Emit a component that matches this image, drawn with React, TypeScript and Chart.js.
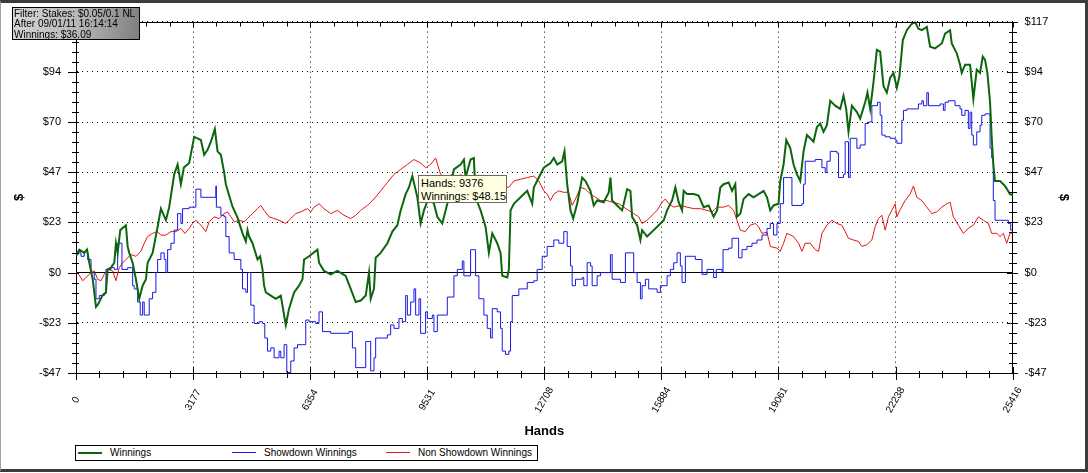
import React, { useEffect, useRef } from 'react';
import { Chart, registerables } from 'chart.js';

Chart.register(...registerables);

const FONT = "'Liberation Sans', Arial, Helvetica, sans-serif";

// ---- Winnings (green) ----
const winHands = [0,89,225,298,361,453,542,588,724,813,859,949,1038,1084,1130,1201,1355,1401,1445,1537,1626,1716,1808,1898,1944,2079,2215,2304,2440,2529,2665,2757,2846,2928,3071,3207,3299,3389,3478,3570,3660,3768,3841,3931,4020,4066,4156,4248,4383,4519,4608,4654,4698,4790,4926,4996,5061,5104,5151,5286,5422,5557,5693,5782,5918,6053,6146,6189,6324,6552,6595,6731,6913,7094,7319,7455,7590,7726,7862,7951,7997,8086,8132,8268,8450,8585,8721,8810,8946,9035,9127,9263,9352,9442,9577,9713,9805,9940,10076,10255,10437,10526,10572,10708,10797,10843,10979,11114,11204,11296,11431,11521,11567,11703,11746,11792,11881,12063,12245,12380,12423,12559,12695,12876,12966,13058,13193,13256,13329,13418,13492,13600,13736,13825,13961,14050,14142,14321,14457,14503,14549,14684,14820,14956,15045,15091,15227,15316,15362,15498,15677,15812,15948,16040,16175,16265,16354,16446,16490,16582,16761,16896,17032,17167,17303,17395,17485,17574,17710,17802,17891,17937,18027,18116,18252,18387,18523,18659,18751,18840,18929,19065,19111,19201,19274,19382,19472,19564,19653,19743,19835,19924,20014,20106,20195,20285,20377,20467,20602,20738,20827,20900,20963,21055,21190,21280,21415,21478,21551,21640,21732,21822,21911,22003,22093,22182,22275,22345,22437,22546,22681,22771,22860,22952,23088,23177,23313,23494,23584,23719,23765,23901,23990,24036,24126,24262,24351,24443,24533,24606,24668,24731,24804,24850,24893,24939,25075,25210,25346,25416];
const winValues = [8,10.7,9.2,10.7,4.6,-3.1,-16.0,-15.1,-10.5,-9.2,1.5,2.3,4.6,13.7,9.2,19.8,22.1,12.2,9.2,4.6,-3.1,-12.2,-6.1,-3.1,4.6,9.2,21.4,29.8,24.4,30.5,45.8,50.4,41.2,49.0,51.1,63.3,62.6,61.8,54.9,57.2,61.0,66.9,56.5,54.9,46.7,41.2,35.9,30.7,25.6,18.3,14.5,19.8,16.8,13.7,6.1,7.6,1.5,-6.1,-9.2,-10.7,-12.2,-10.7,-24.4,-16.8,-9.2,-6.1,-3.1,6.1,7.6,10.7,4.6,0.8,-0.8,0.8,-1.5,-7.6,-13.7,-13.0,-10.7,0,-12.2,-7.6,6.9,9.2,13.7,19.1,22.1,29.0,36.6,39.7,45.0,35.1,22.9,29.0,35.1,32.1,26.0,22.9,32.1,48.1,50.4,52.7,44.3,52.7,53.4,35.1,29.0,21.4,9.2,18.3,13.7,9.2,-1.5,-2.3,1.5,29.0,32.1,35.1,38.1,32.1,39.7,44.3,48.9,51.1,53.4,50.4,51.9,56.5,41.2,29.0,25.2,32.1,44.3,42.7,38.1,31.3,33.6,32.8,37.4,44.3,33.6,31.3,29.0,38.9,38.1,26.0,22.1,15.2,19.8,16.8,19.8,22.1,24.4,29.0,33.6,39.7,32.8,29.0,38.1,36.6,36.6,35.9,30.5,31.3,26.0,29.0,39.7,41.2,42.0,38.1,41.2,26.0,27.5,34.3,36.6,35.1,36.6,38.1,35.1,29.0,31.3,32.1,42.7,50.4,61.8,58.0,50.4,45.8,42.7,56.5,64.1,62.6,61.0,67.9,69.5,65.6,68.7,80.1,77.8,76.3,82.4,76.3,65.6,77.8,74.8,71.8,79.4,83.9,76.3,88.5,103.8,103.0,87.0,83.9,90.8,93.1,86.2,91.6,108.4,113.0,116.0,116.8,113.7,113.0,114.5,105.3,104.5,106.8,111.4,113.0,106.8,102.2,96.9,93.1,96.9,96.9,80.9,94.6,93.1,100.7,99.2,93.1,79.4,62.6,50.4,42.7,42.7,40.4,36.6,36.09];

// ---- Showdown Winnings (blue, stepped) ----
const sdHands = [0,46,136,225,317,407,496,542,632,767,813,949,1038,1130,1247,1401,1537,1580,1673,1743,1808,1851,1944,1987,2079,2169,2215,2304,2394,2440,2486,2575,2665,2757,2846,2892,3071,3207,3253,3389,3741,3795,3809,3931,4020,4066,4156,4291,4473,4519,4608,4654,4744,4833,4969,5061,5123,5197,5286,5376,5511,5557,5647,5720,5828,5918,6010,6146,6235,6324,6506,6595,6688,6913,7409,7501,7590,7815,7862,7951,7997,8086,8132,8450,8539,8629,8764,8856,8946,8992,9081,9171,9217,9306,9352,9488,9534,9669,9713,9805,10030,10076,10255,10347,10483,10526,10708,10797,10843,10933,11068,11160,11250,11296,11431,11521,11567,11656,11746,11792,11838,12017,12245,12423,12515,12651,12786,12966,13102,13237,13329,13418,13464,13554,13736,13779,13871,13961,14007,14142,14232,14503,14549,14774,14909,15045,15134,15227,15316,15362,15452,15541,15769,15858,16040,16129,16219,16311,16400,16446,16536,16807,16988,17124,17303,17376,17531,17558,17710,17802,17981,18073,18208,18344,18480,18615,18751,18840,18929,19021,19111,19201,19336,19428,19699,19743,19789,20060,20241,20331,20377,20467,20648,20692,20827,20873,20963,21009,21190,21280,21415,21505,21597,21749,21822,21868,21957,22093,22229,22275,22410,22454,22546,22860,22952,22996,23088,23131,23448,23538,23584,23674,23855,23990,24036,24126,24215,24262,24307,24351,24443,24533,24579,24668,24804,24850,24893,24939,25300,25365,25416];
const sdValues = [8.2,9.2,7.6,9.9,6.1,0,-3.1,-12.2,-10.7,-9.9,1.5,2.3,1.5,13.7,1.5,2.3,-6.1,-7.6,-13.7,-19.8,-13.7,-19.8,-19.8,-12.2,-9.2,0,6.1,9.2,6.1,0,10.7,13.7,19.8,27.5,22.9,29.8,30.5,30.5,38.9,35.1,35.1,40.4,30.5,26.7,26.0,16.8,9.2,6.1,1.5,-7.6,-9.2,0,-15.2,-23.7,-22.9,-23.7,-30.5,-36.6,-35.1,-39.7,-36.6,-39.7,-33.6,-46.6,-41.2,-35.1,-33.6,-33.6,-22.1,-22.9,-23.7,-18.3,-27.5,-28.3,-27.5,-35.1,-44.3,-44.3,-32.1,-32.1,-45.8,-39.7,-30.5,-29.0,-24.4,-26.0,-21.4,-22.9,-10.7,-19.8,-13.7,-7.6,-19.8,-12.2,-28.3,-18.3,-21.4,-19.8,-27.5,-19.8,-19.8,-11.4,-1.5,1.5,5.4,-1.5,10.7,10.7,-1.5,-12.2,-19.8,-26.0,-30.5,-16.8,-18.3,-26.0,-36.6,-38.1,-36.6,-22.9,-10.7,-7.6,-4.6,-3.8,1.5,7.6,12.2,15.2,13.7,19.1,12.2,3.1,-6.1,-3.1,-2.3,-6.1,4.6,3.1,-6.1,-1.5,0,8.4,-3.1,-4.6,9.2,9.2,0,-4.6,-12.2,-6.1,-3.1,-7.6,-9.2,-6.1,-1.5,1.5,4.6,9.2,3.1,-4.6,7.6,6.1,-0.8,1.5,-2.3,1.5,0,10.7,11.4,16.0,6.9,10.7,12.2,13.7,15.2,17.5,20.6,22.9,17.5,22.9,32.1,44.3,44.3,31.3,32.1,41.2,51.9,52.7,48.9,46.6,51.9,56.5,55.7,44.3,45.8,61.0,44.3,62.6,58.0,59.5,69.5,70.2,77.8,79.4,73.3,64.1,63.3,62.6,61.8,60.3,71.0,75.6,76.3,78.6,80.1,77.8,83.9,77.8,78.6,75.6,79.4,80.1,77.8,76.3,73.3,75.6,67.2,74.8,64.1,59.5,65.6,68.7,73.3,74.0,58.0,53.4,33.6,24.4,22.9,19.8,19.8];

// ---- Non Showdown Winnings (red) ----
const nsdHands = [0,81,182,271,407,496,588,678,767,859,995,1084,1174,1266,1355,1491,1626,1762,1851,1944,2079,2215,2304,2440,2575,2711,2846,2955,3071,3163,3253,3389,3524,3613,3749,3885,4020,4112,4202,4291,4427,4562,4654,4790,4926,5015,5104,5240,5376,5511,5693,5828,5964,6099,6281,6370,6460,6595,6731,6913,7094,7273,7455,7590,7726,7907,8086,8268,8450,8629,8810,8992,9171,9352,9488,9623,9759,9894,10030,10211,10347,10437,10526,10708,10979,11250,11521,11746,11881,12063,12245,12423,12559,12695,12786,12876,12966,13102,13237,13364,13464,13554,13690,13825,13961,14096,14232,14413,14549,14728,14863,14999,15134,15270,15362,15498,15633,15769,15904,15994,16083,16219,16400,16582,16761,16943,17124,17260,17395,17574,17710,17846,17937,18027,18162,18298,18433,18523,18615,18751,18840,19021,19111,19201,19292,19472,19607,19699,19789,19924,20060,20150,20241,20377,20512,20648,20783,20873,20963,21099,21235,21325,21461,21597,21686,21776,21868,21957,22047,22139,22229,22275,22364,22500,22636,22725,22817,22952,23088,23224,23359,23494,23630,23719,23809,23945,24080,24215,24351,24487,24622,24758,24850,24985,25075,25165,25256,25346,25416];
const nsdValues = [0,-0.9,-3.8,-2.3,0,0.8,-3.1,-3.8,-0.8,1.5,0.8,-3.8,2.3,4.6,6.1,8.4,7.6,9.9,13.7,16.8,18.3,19.1,17.4,17.5,19.1,19.1,20.6,18.3,20.6,22.9,24.4,22.1,19.1,23.7,26.0,25.2,27.5,28.3,26.0,23.7,24.4,23.7,25.2,27.5,29.8,31.3,29.0,26.0,25.2,24.4,22.9,25.2,27.5,28.3,29.8,28.3,30.5,32.1,29.8,27.5,29.0,26.7,25.2,26.7,29.0,31.3,34.3,38.1,42.0,45.8,48.1,50.4,52.7,51.1,48.9,50.4,53.4,45.8,44.3,45.8,44.3,45.8,44.3,43.0,41.2,42.1,40.3,39.7,42.7,43.5,44.3,45.0,42.7,38.1,36.6,33.6,36.6,38.1,37.4,37.5,31.3,34.3,39.7,38.9,36.6,35.1,33.6,33.6,32.8,32.1,30.5,29.0,27.5,26.0,22.9,24.4,26.7,29.0,32.8,34.3,32.1,30.5,31.3,30.5,29.8,29.8,29.0,28.3,30.5,30.5,31.3,29.0,24.4,19.8,19.1,22.1,22.9,21.4,18.3,18.8,12.2,11.4,9.9,13.7,18.3,16.8,13.7,9.9,13.7,13.7,10.7,9.9,18.3,22.1,24.4,22.9,22.1,19.1,16.0,15.2,14.5,12.2,13.0,15.2,21.4,25.2,26.7,19.8,26.0,29.0,32.1,26.0,29.3,33.6,36.6,40.4,35.1,33.6,30.5,27.5,28.3,30.5,32.1,32.8,26.0,22.1,18.3,20.6,22.1,26.0,24.4,22.9,18.3,18.3,16.8,18.3,13.7,18.3,18.3];

// ---- axes ----
const xTickValues = [0, 3177, 6354, 9531, 12708, 15884, 19061, 22238, 25416];
const xTickLabels = ['0', '3177', '6354', '9531', '12708', '15884', '19061', '22238', '25416'];
const yTickValues = [-46.8, -23.4, 0, 23.4, 46.8, 70.2, 93.6, 117];
const yTickLabels = ['-$47', '-$23', '$0', '$23', '$47', '$70', '$94', '$117'];
const xMin = 0, xMax = 25416, yMin = -46.8, yMax = 117;
const xTitle = 'Hands';
const yTitle = '$';

// ---- series meta ----
const seriesNames = ['Winnings', 'Showdown Winnings', 'Non Showdown Winnings'];
const seriesColors = ['#0c660c', '#1818e6', '#e61414'];
const seriesWidths = [2, 1, 1];

// ---- overlays ----
const filterLines = ['Filter: Stakes: $0.05/0.1 NL', 'After 09/01/11 16:14:14', 'Winnings: $36.09'];
const tipHands = 9376;
const tipWinnings = 48.15;

function toPoints(xs: number[], ys: number[]) {
  return xs.map((x, i) => ({ x, y: ys[i] }));
}

const axisDecor = {
  id: 'axisDecor',
  afterDraw(chart: any) {
    const { ctx, chartArea: ca, scales } = chart;
    const xs = scales.x, ys = scales.y;
    ctx.save();
    ctx.strokeStyle = '#000';
    ctx.lineWidth = 1;
    ctx.beginPath();
    const topY = Math.round(ca.top) + 0.5;
    ctx.moveTo(ca.left, topY);
    ctx.lineTo(ca.right, topY);
    const bot = Math.round(ca.bottom);
    const nx = (xTickValues.length - 1) * 5;
    for (let i = 0; i <= nx; i++) {
      const v = xMin + ((xMax - xMin) * i) / nx;
      const px = Math.round(xs.getPixelForValue(v)) + 0.5;
      const major = i % 5 === 0;
      ctx.moveTo(px, bot - (major ? 6 : 2));
      ctx.lineTo(px, bot + (major ? 7 : 5));
      ctx.moveTo(px, topY);
      ctx.lineTo(px, topY + (major ? 5 : 4));
    }
    const ny = (yTickValues.length - 1) * 5;
    const lx = Math.round(ca.left);
    const rx = Math.round(ca.right);
    for (let i = 0; i <= ny; i++) {
      const v = yMin + ((yMax - yMin) * i) / ny;
      const py = Math.round(ys.getPixelForValue(v)) + 0.5;
      const major = i % 5 === 0;
      ctx.moveTo(lx - (major ? 8 : 4), py);
      ctx.lineTo(lx + 3, py);
      ctx.moveTo(rx - (major ? 6 : 4), py);
      ctx.lineTo(rx + (major ? 5 : 4), py);
    }
    ctx.stroke();
    ctx.fillStyle = '#000';
    ctx.font = `10px ${FONT}`;
    ctx.textAlign = 'center';
    ctx.textBaseline = 'middle';
    xTickValues.forEach((v, i) => {
      const px = xs.getPixelForValue(v);
      ctx.save();
      ctx.translate(px, ca.bottom + 27);
      ctx.rotate(-Math.PI / 3);
      ctx.fillText(xTickLabels[i], 0, 0);
      ctx.restore();
    });
    ctx.restore();
  },
};

const gridDash = (c: any) => (c.tick && c.tick.value === 0 ? [] : [1, 4]);

export default function App() {
  const ref = useRef<HTMLCanvasElement>(null);

  useEffect(() => {
    if (!ref.current) return;
    const setTicks = (vals: number[]) => (s: any) => {
      s.ticks = vals.map((v) => ({ value: v }));
    };
    const chart = new Chart(ref.current, {
      type: 'line',
      data: {
        datasets: [
          {
            label: seriesNames[0],
            data: toPoints(winHands, winValues),
            borderColor: seriesColors[0],
            borderWidth: seriesWidths[0],
            pointRadius: 0,
            tension: 0,
            fill: false,
          },
          {
            label: seriesNames[1],
            data: toPoints(sdHands, sdValues),
            borderColor: seriesColors[1],
            borderWidth: seriesWidths[1],
            pointRadius: 0,
            stepped: 'before',
            fill: false,
          },
          {
            label: seriesNames[2],
            data: toPoints(nsdHands, nsdValues),
            borderColor: seriesColors[2],
            borderWidth: seriesWidths[2],
            pointRadius: 0,
            tension: 0,
            fill: false,
          },
        ],
      },
      options: {
        responsive: false,
        animation: false,
        devicePixelRatio: 1,
        layout: { padding: { top: 15, bottom: 33, left: 0, right: 0 } },
        plugins: { legend: { display: false }, tooltip: { enabled: false } },
        events: [],
        scales: {
          x: {
            type: 'linear',
            position: 'bottom',
            min: xMin,
            max: xMax,
            afterBuildTicks: setTicks(xTickValues),
            ticks: { display: false },
            grid: { color: '#000', drawTicks: false, lineWidth: 1 },
            border: { display: true, color: '#000', dash: gridDash },
            title: {
              display: true,
              text: xTitle,
              color: '#000',
              font: { family: FONT, size: 13, weight: 'bold' },
              padding: { top: 0, bottom: 1 },
            },
            afterFit: (s: any) => {
              s.height = 67;
            },
          },
          y: {
            type: 'linear',
            position: 'left',
            min: yMin,
            max: yMax,
            afterBuildTicks: setTicks(yTickValues),
            ticks: {
              callback: (_v: any, i: number) => yTickLabels[i],
              color: '#000',
              font: { family: FONT, size: 11 },
              padding: 15,
            },
            grid: { color: '#000', drawTicks: false, lineWidth: 1 },
            border: { display: true, color: '#000', dash: gridDash },
            title: {
              display: true,
              text: yTitle,
              color: '#000',
              font: { family: FONT, size: 13, weight: 'bold' },
              padding: { top: 12, bottom: 0 },
            },
            afterFit: (s: any) => {
              s.width = 76;
            },
          },
          y2: {
            type: 'linear',
            position: 'right',
            min: yMin,
            max: yMax,
            afterBuildTicks: setTicks(yTickValues),
            ticks: {
              callback: (_v: any, i: number) => yTickLabels[i],
              color: '#000',
              font: { family: FONT, size: 11 },
              padding: 12,
            },
            grid: { drawOnChartArea: false, drawTicks: false },
            border: { display: true, color: '#000' },
            title: {
              display: true,
              text: yTitle,
              color: '#000',
              font: { family: FONT, size: 13, weight: 'bold' },
              padding: { top: 17, bottom: 0 },
            },
            afterFit: (s: any) => {
              s.width = 75.4;
            },
          },
        },
      },
      plugins: [axisDecor],
    } as any);
    return () => chart.destroy();
  }, []);

  return (
    <div
      style={{
        position: 'absolute',
        left: 0,
        top: 0,
        width: 1088,
        height: 473,
        background: '#fff',
        overflow: 'hidden',
      }}
    >
      <canvas ref={ref} width={1088} height={473} style={{ position: 'absolute', left: 0, top: 0 }} />
      <div
        style={{
          position: 'absolute',
          left: 12,
          top: 7,
          width: 128,
          height: 33,
          boxSizing: 'border-box',
          border: '1px solid #000',
          background: 'linear-gradient(100deg, #d6d6d6 0%, #b4b4b4 55%, #7e7e7e 100%)',
          font: `10px ${FONT}`,
          lineHeight: '10.4px',
          padding: '1px 0 0 1px',
          color: '#000',
          whiteSpace: 'nowrap',
        }}
      >
        {filterLines.map((l) => (
          <div key={l}>{l}</div>
        ))}
      </div>
      <div
        style={{
          position: 'absolute',
          left: 418,
          top: 175,
          width: 89,
          height: 28,
          boxSizing: 'border-box',
          border: '1px solid #6a6a6a',
          background: '#ffffe1',
          font: `11px ${FONT}`,
          lineHeight: '12.5px',
          padding: '1px 0 0 2px',
          color: '#000',
          whiteSpace: 'nowrap',
        }}
      >
        <div>Hands: {tipHands}</div>
        <div>Winnings: ${tipWinnings.toFixed(2)}</div>
      </div>
      <div
        style={{
          position: 'absolute',
          left: 75,
          top: 445,
          width: 463,
          height: 16,
          boxSizing: 'border-box',
          border: '1px solid #000',
          background: '#fff',
          font: `10px ${FONT}`,
          color: '#000',
          whiteSpace: 'nowrap',
        }}
      >
        {seriesNames.map((n, i) => (
          <div
            key={n}
            style={{
              position: 'absolute',
              left: 2 + i * 154,
              top: 0,
              height: 14,
              lineHeight: '14px',
            }}
          >
            <div
              style={{
                position: 'absolute',
                left: 0,
                top: 6,
                width: 24,
                height: 0,
                borderTop: `${seriesWidths[i]}px solid ${seriesColors[i]}`,
              }}
            />
            <span style={{ position: 'absolute', left: 32, top: 0 }}>{n}</span>
          </div>
        ))}
      </div>
      <div
        style={{
          position: 'absolute',
          left: 0,
          top: 0,
          width: 1088,
          height: 472,
          boxSizing: 'border-box',
          borderTop: '3px solid #3c3c3c',
          borderRight: '3px solid #3c3c3c',
          borderBottom: '3px solid #3c3c3c',
          borderLeft: '1px solid #a0a0a0',
          pointerEvents: 'none',
        }}
      />
    </div>
  );
}
